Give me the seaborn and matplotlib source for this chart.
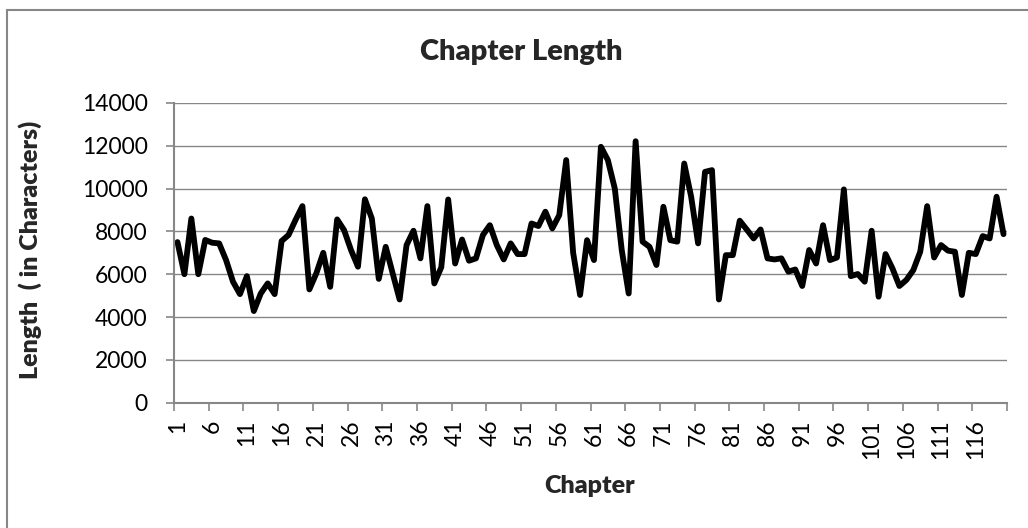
import numpy as np
import pandas as pd
import matplotlib
matplotlib.use("Agg")
import matplotlib.pyplot as plt
import seaborn as sns
from matplotlib.patches import Rectangle

# chapter numbers and lengths
chapters = list(range(1, 121))
lengths = [7500, 6000, 8600, 6000, 7600, 7470, 7440, 6660, 5650, 5070,
           5910, 4280, 5100, 5570, 5070, 7550, 7830, 8530, 9180, 5290,
           6040, 7000, 5410, 8560, 8060, 7130, 6350, 9500, 8600, 5780,
           7280, 6040, 4820, 7360, 8030, 6740, 9180, 5570, 6320, 9490,
           6500, 7620, 6630, 6740, 7830, 8290, 7360, 6690, 7440, 6940,
           6940, 8370, 8250, 8920, 8140, 8760, 11330, 7000, 5030, 7590,
           6660, 11950, 11330, 10000, 7130, 5100, 12210, 7520, 7280, 6430,
           9150, 7590, 7520, 11170, 9620, 7440, 10780, 10860, 4820, 6890,
           6890, 8500, 8090, 7670, 8090, 6740, 6690, 6740, 6120, 6220,
           5450, 7130, 6500, 8290, 6660, 6780, 9960, 5910, 6010, 5650,
           8030, 4950, 6940, 6270, 5450, 5730, 6190, 7050, 9180, 6780,
           7360, 7100, 7050, 5030, 7000, 6940, 7780, 7670, 9620, 7870]
label_chapters = list(range(1, 120, 5))
tick_labels = [str(c) for c in label_chapters]
y_ticks = list(range(0, 14001, 2000))

grey = '#878787'

sns.set_style("white")
plt.rcParams['font.family'] = ['Lato', 'DejaVu Sans']

fig = plt.figure(figsize=(10.28, 5.28), dpi=100)
ax = fig.add_axes([174 / 1028, 1 - 402.7 / 528,
                   (1007 - 174) / 1028, (402.7 - 102.9) / 528])

df = pd.DataFrame({'Chapter': chapters, 'Length': lengths})
sns.lineplot(data=df, x='Chapter', y='Length', color='black', lw=4.2,
             solid_joinstyle='round', ax=ax)

ax.set_xlim(0.5, 120.5)
ax.set_ylim(0, 14000)
ax.set_yticks(y_ticks)
ax.set_yticklabels([str(v) for v in y_ticks])
ax.set_xticks(label_chapters)
ax.set_xticklabels(tick_labels, rotation=90)
ax.set_xticks(np.arange(0.5, 121, 5), minor=True)
ax.tick_params(axis='x', which='major', length=0, pad=12, labelsize=16.5,
               labelcolor='black')
ax.tick_params(axis='x', which='minor', length=6, width=1.2, color=grey,
               bottom=True)
ax.tick_params(axis='y', length=6, width=1.2, color=grey, labelsize=16.5,
               pad=13, left=True, labelcolor='black')
ax.set_axisbelow(True)
ax.grid(axis='y', color=grey, lw=1.0)
ax.grid(axis='x', visible=False)
for side in ['top', 'right']:
    ax.spines[side].set_visible(False)
for side in ['left', 'bottom']:
    ax.spines[side].set_color(grey)
    ax.spines[side].set_linewidth(1.5)
ax.set_xlabel('')
ax.set_ylabel('')

# chart area border (only top/left edges fall inside the image)
fig.patches.append(Rectangle((7 / 1028, -0.1), 1.2, 1.1 - 10 / 528,
                             transform=fig.transFigure, fill=False,
                             edgecolor=grey, lw=1.5))

fig.text(521.7 / 1028, 1 - 52 / 528, 'Chapter Length', ha='center',
         va='center', fontsize=21, fontweight='heavy')
fig.text(590 / 1028, 1 - 486 / 528, 'Chapter', ha='center', va='center',
         fontsize=18, fontweight='heavy')
fig.text(30 / 1028, 1 - 250 / 528, 'Length  ( in Characters)', ha='center',
         va='center', rotation=90, fontsize=18, fontweight='heavy')

fig.savefig('out.png', dpi=100)
